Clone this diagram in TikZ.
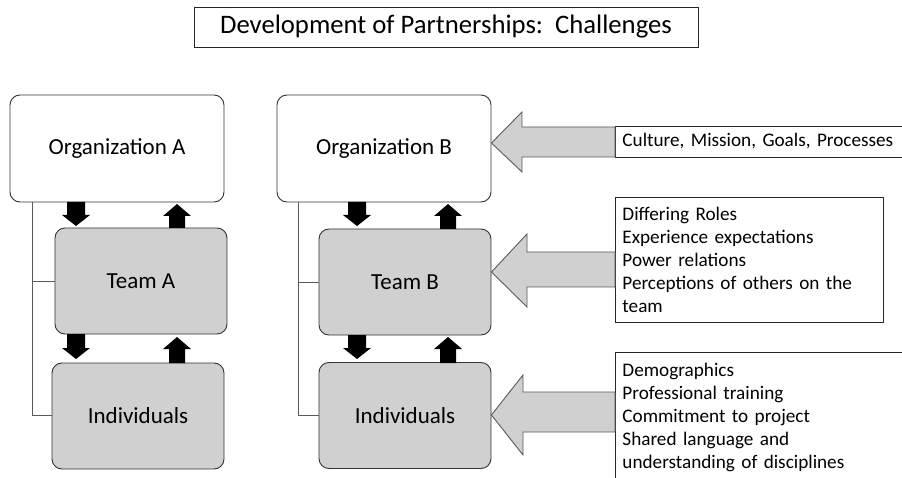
\documentclass[tikz,border=0pt]{standalone}
\usepackage{fontspec}
\setmainfont{Carlito}
\usetikzlibrary{calc}
\definecolor{boxgray}{RGB}{208,208,208}
\definecolor{edgegray}{RGB}{90,90,90}
\tikzset{
  unitbox/.style={draw=black!80, line width=0.9pt, rounded corners=10pt, font=\fontsize{23}{27}\selectfont},
  orgbox/.style={unitbox, fill=white, minimum width=214pt, minimum height=107pt},
  teambox/.style={unitbox, fill=boxgray, minimum width=172pt, minimum height=106pt},
  listedge/.style={draw=black!85, line width=0.9pt},
  listbox/.style={listedge, fill=white, anchor=north west, inner xsep=7pt,
    align=left, font=\fontsize{19.2}{23}\selectfont},
  bracket/.style={draw=edgegray, line width=0.9pt},
  blackarrow/.style={fill=black, draw=none},
  bigarrow/.style={fill=boxgray, draw=edgegray, line width=0.9pt, line join=miter},
}
\begin{document}
\begin{tikzpicture}[x=1pt,y=-1pt]
\clip (0,0) rectangle (902,478);
\fill[white] (0,0) rectangle (902,478);

% title
\node[draw=black!85, line width=0.9pt, minimum width=504pt, minimum height=40pt,
      font=\fontsize{26.7}{31}\selectfont] (title) at (446,27) {Development of Partnerships:\ \ Challenges};

% partner A
\node[orgbox]  (orgA)  at (117,148.5) {Organization A};
\node[teambox] (teamA) at (141,281)   {Team A};
\node[teambox] (indA)  at (138,416)   {Individuals};

% partner B
\node[orgbox]  (orgB)  at (384,148.5) {Organization B};
\node[teambox] (teamB) at (405,282)   {Team B};
\node[teambox] (indB)  at (405,415.5) {Individuals};

% side brackets linking the levels
\draw[bracket] (orgA.south -| 32,0) |- (indA.west |- 0,415);
\draw[bracket] (32,281) -- (teamA.west |- 0,281);
\draw[bracket] (orgB.south -| 298,0) |- (indB.west |- 0,415);
\draw[bracket] (298,282) -- (teamB.west |- 0,282);

% block arrows between levels: down (x0 = left of head) and up
\newcommand{\downblk}[3]{% head left x, top y, bottom y
  \fill[blackarrow] (#1+5,#2) -- (#1+23,#2) -- (#1+23,#3-11) -- (#1+28,#3-11)
     -- (#1+14,#3) -- (#1,#3-11) -- (#1+5,#3-11) -- cycle;}
\newcommand{\upblk}[3]{% head left x, top y, bottom y
  \fill[blackarrow] (#1+6,#3) -- (#1+22,#3) -- (#1+22,#2+12) -- (#1+28,#2+12)
     -- (#1+14,#2) -- (#1,#2+12) -- (#1+6,#2+12) -- cycle;}
\downblk{62}{202}{226}
\upblk{163}{204}{228}
\downblk{62}{334}{359}
\upblk{163}{337}{363}
\downblk{343}{202}{226}
\upblk{434}{204}{229}
\downblk{343}{335}{359}
\upblk{434}{337}{363}

% factor lists
\node[listbox, text width=316pt, minimum height=31pt, anchor=west] (cult) at (615,141.5)
  {Culture, Mission, Goals, Processes};
\node[listbox, text width=254pt, inner ysep=6pt, minimum height=125pt] (teamf) at (615,197)
  {Differing Roles\\Experience expectations\\Power relations\\Perceptions of others on the\\team};
\node[listbox, draw=none, text width=316pt, inner ysep=11pt] (indf) at (615,352)
  {Demographics\\Professional training\\Commitment to project\\Shared language and\\understanding of disciplines};
\draw[listedge] (indf.north east) -- (indf.north west) -- ++(0,140);

% wide arrows pointing from the lists into partner B
\draw[bigarrow] (orgB.east |- 0,143) -- (522,112) -- (522,127) -- (cult.west |- 0,127)
  -- (cult.west |- 0,157) -- (522,157) -- (522,172) -- cycle;
\draw[bigarrow] (teamB.east |- 0,272) -- (527,234) -- (527,252) -- (teamf.west |- 0,252)
  -- (teamf.west |- 0,287) -- (527,287) -- (527,307) -- cycle;
\draw[bigarrow] (indB.east |- 0,415) -- (523,375) -- (523,392) -- (indf.west |- 0,392)
  -- (indf.west |- 0,432) -- (523,432) -- (523,455) -- cycle;
\end{tikzpicture}
\end{document}
